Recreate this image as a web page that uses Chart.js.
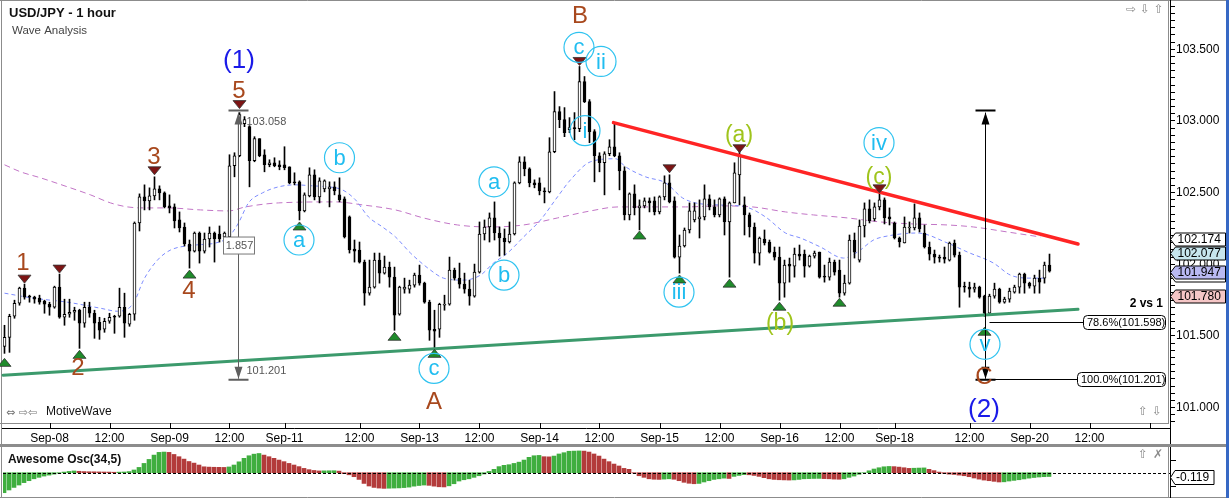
<!DOCTYPE html>
<html lang="en">
<head>
<meta charset="UTF-8">
<title>USD/JPY - 1 hour</title>
<script src="https://cdn.jsdelivr.net/npm/chart.js@4.4.1/dist/chart.umd.min.js"></script>
<style>
  html, body { margin: 0; padding: 0; background: #fff; }
  #wrap { position: relative; width: 1229px; height: 498px; overflow: hidden; }
  canvas { position: absolute; left: 0; }
  #priceChart { top: 0; }
  #aoChart { top: 446px; }
</style>
</head>
<body>
<div id="wrap">
  <canvas id="priceChart" width="1229" height="446"></canvas>
  <canvas id="aoChart" width="1229" height="52"></canvas>
</div>
<script>
// hourly candles (index 0 = first bar on the left)
const opens = [
  101.427, 101.490, 101.637, 101.728, 101.833, 101.777, 101.770, 101.763, 101.742, 101.721,
  101.700, 101.840, 101.630, 101.651, 101.665, 101.679, 101.588, 101.700, 101.658, 101.595,
  101.546, 101.602, 101.637, 101.637, 101.700, 101.581, 101.651, 102.288, 102.470, 102.442,
  102.477, 102.526, 102.498, 102.407, 102.400, 102.309, 102.260, 102.141, 102.092, 102.218,
  102.092, 102.176, 102.218, 102.211, 102.190, 102.190, 102.687, 102.757, 102.981, 102.960,
  102.722, 102.876, 102.764, 102.694, 102.708, 102.694, 102.694, 102.680, 102.575, 102.575,
  102.372, 102.477, 102.624, 102.470, 102.526, 102.526, 102.540, 102.484, 102.456, 102.330,
  102.106, 102.099, 102.015, 101.798, 101.840, 102.029, 101.938, 101.980, 101.910, 101.651,
  101.826, 101.826, 101.854, 101.924, 101.868, 101.735, 101.546, 101.546, 101.714, 101.721,
  101.959, 101.903, 101.861, 101.826, 101.777, 101.945, 102.211, 102.260, 102.323, 102.218,
  102.183, 102.155, 102.211, 102.568, 102.715, 102.666, 102.568, 102.568, 102.512, 102.505,
  102.785, 103.065, 103.009, 102.939, 102.953, 102.946, 103.275, 103.135, 102.925, 102.757,
  102.708, 102.771, 102.820, 102.757, 102.652, 102.344, 102.491, 102.393, 102.407, 102.442,
  102.442, 102.365, 102.470, 102.568, 102.442, 102.050, 102.127, 102.239, 102.309, 102.316,
  102.330, 102.456, 102.400, 102.344, 102.456, 102.295, 102.428, 102.624, 102.414, 102.344,
  102.260, 102.078, 102.176, 102.155, 102.085, 102.050, 101.868, 102.001, 101.987, 102.071,
  102.071, 101.987, 102.057, 102.085, 101.917, 101.910, 102.015, 101.959, 101.798, 101.868,
  102.169, 102.029, 102.267, 102.386, 102.316, 102.400, 102.449, 102.330, 102.288, 102.183,
  102.148, 102.253, 102.253, 102.323, 102.218, 102.120, 102.071, 102.050, 102.050, 102.029,
  102.148, 102.064, 101.847, 101.840, 101.826, 101.840, 101.777, 101.658, 101.777, 101.826,
  101.735, 101.756, 101.805, 101.840, 101.931, 101.868, 101.847, 101.903, 101.903, 101.994
];
const highs = [
  101.574, 101.651, 101.749, 101.840, 101.861, 101.784, 101.777, 101.784, 101.749, 101.735,
  101.847, 101.931, 101.756, 101.756, 101.700, 101.686, 101.735, 101.735, 101.679, 101.630,
  101.623, 101.658, 101.644, 101.833, 101.798, 101.658, 102.295, 102.491, 102.554, 102.533,
  102.610, 102.547, 102.505, 102.484, 102.421, 102.365, 102.288, 102.169, 102.225, 102.225,
  102.218, 102.260, 102.225, 102.267, 102.225, 102.764, 102.778, 103.058, 103.030, 102.967,
  102.890, 102.876, 102.799, 102.729, 102.743, 102.722, 102.820, 102.680, 102.638, 102.582,
  102.498, 102.673, 102.659, 102.603, 102.589, 102.575, 102.575, 102.603, 102.470, 102.337,
  102.169, 102.155, 102.029, 102.029, 102.078, 102.078, 102.057, 102.015, 101.980, 101.847,
  101.903, 101.889, 101.938, 101.994, 101.875, 101.749, 101.679, 101.728, 101.784, 102.050,
  101.973, 102.008, 101.938, 101.889, 102.001, 102.295, 102.309, 102.358, 102.435, 102.260,
  102.246, 102.295, 102.575, 102.750, 102.750, 102.673, 102.589, 102.603, 102.533, 102.883,
  103.205, 103.100, 103.093, 103.023, 103.058, 103.380, 103.310, 103.149, 102.939, 102.778,
  102.785, 102.869, 102.988, 102.778, 102.680, 102.498, 102.554, 102.449, 102.463, 102.463,
  102.470, 102.477, 102.617, 102.624, 102.470, 102.204, 102.253, 102.428, 102.428, 102.449,
  102.554, 102.484, 102.449, 102.463, 102.470, 102.435, 102.708, 102.785, 102.470, 102.358,
  102.288, 102.190, 102.239, 102.169, 102.120, 102.120, 102.029, 102.043, 102.113, 102.134,
  102.099, 102.064, 102.092, 102.085, 101.994, 102.043, 102.029, 102.029, 101.924, 102.204,
  102.218, 102.309, 102.428, 102.449, 102.428, 102.498, 102.463, 102.393, 102.295, 102.190,
  102.330, 102.295, 102.421, 102.358, 102.274, 102.155, 102.099, 102.064, 102.120, 102.155,
  102.169, 102.085, 101.875, 101.875, 101.868, 101.847, 101.784, 101.791, 101.868, 101.833,
  101.770, 101.833, 101.854, 101.938, 101.938, 101.875, 101.924, 101.959, 102.015, 102.071
];
const lows = [
  101.378, 101.385, 101.623, 101.714, 101.756, 101.735, 101.728, 101.721, 101.658, 101.644,
  101.693, 101.623, 101.574, 101.630, 101.609, 101.413, 101.560, 101.630, 101.483, 101.476,
  101.525, 101.588, 101.518, 101.630, 101.490, 101.567, 101.609, 102.232, 102.379, 102.379,
  102.449, 102.449, 102.393, 102.358, 102.253, 102.225, 102.127, 101.973, 102.085, 102.008,
  102.078, 102.120, 102.015, 102.155, 102.176, 102.183, 102.610, 102.750, 102.960, 102.540,
  102.715, 102.750, 102.645, 102.680, 102.680, 102.659, 102.659, 102.561, 102.554, 102.309,
  102.365, 102.470, 102.449, 102.428, 102.505, 102.400, 102.484, 102.435, 102.183, 102.078,
  102.015, 102.008, 101.714, 101.784, 101.833, 101.868, 101.931, 101.840, 101.539, 101.644,
  101.798, 101.798, 101.840, 101.854, 101.728, 101.469, 101.413, 101.490, 101.679, 101.714,
  101.889, 101.833, 101.798, 101.714, 101.770, 101.938, 102.169, 102.155, 102.169, 102.057,
  102.064, 102.148, 102.204, 102.561, 102.617, 102.540, 102.533, 102.484, 102.428, 102.498,
  102.778, 102.953, 102.890, 102.918, 102.869, 102.925, 103.128, 102.848, 102.575, 102.645,
  102.484, 102.757, 102.750, 102.519, 102.309, 102.309, 102.344, 102.239, 102.393, 102.365,
  102.344, 102.351, 102.449, 102.428, 102.043, 101.938, 102.120, 102.218, 102.295, 102.183,
  102.309, 102.379, 102.330, 102.330, 102.204, 101.910, 102.428, 102.414, 102.204, 102.190,
  102.008, 101.994, 102.134, 102.078, 102.029, 101.749, 101.770, 101.875, 101.910, 102.029,
  101.910, 101.980, 102.043, 101.903, 101.875, 101.889, 101.924, 101.770, 101.784, 101.861,
  102.043, 102.015, 102.190, 102.288, 102.302, 102.379, 102.281, 102.274, 102.176, 102.120,
  102.148, 102.218, 102.239, 102.225, 102.113, 102.029, 102.008, 102.015, 102.008, 102.022,
  102.050, 101.700, 101.805, 101.770, 101.805, 101.763, 101.637, 101.644, 101.763, 101.728,
  101.728, 101.735, 101.798, 101.798, 101.798, 101.833, 101.798, 101.798, 101.868, 101.945
];
const closes = [
  101.490, 101.637, 101.728, 101.833, 101.770, 101.770, 101.756, 101.735, 101.721, 101.700,
  101.840, 101.630, 101.651, 101.665, 101.679, 101.588, 101.700, 101.658, 101.588, 101.539,
  101.602, 101.630, 101.630, 101.700, 101.588, 101.651, 102.288, 102.470, 102.442, 102.477,
  102.526, 102.498, 102.400, 102.393, 102.302, 102.253, 102.141, 102.092, 102.218, 102.092,
  102.176, 102.218, 102.176, 102.176, 102.218, 102.687, 102.757, 103.044, 103.009, 102.722,
  102.876, 102.757, 102.694, 102.708, 102.687, 102.680, 102.673, 102.568, 102.568, 102.372,
  102.484, 102.624, 102.470, 102.582, 102.582, 102.540, 102.512, 102.449, 102.190, 102.099,
  102.092, 102.015, 101.798, 101.840, 102.029, 101.938, 101.980, 101.910, 101.644, 101.840,
  101.840, 101.854, 101.924, 101.868, 101.735, 101.539, 101.532, 101.721, 101.721, 101.959,
  101.903, 101.861, 101.826, 101.777, 101.945, 102.211, 102.260, 102.323, 102.218, 102.183,
  102.155, 102.211, 102.568, 102.715, 102.666, 102.568, 102.554, 102.512, 102.505, 102.785,
  103.065, 103.009, 102.918, 102.953, 102.946, 103.275, 103.135, 102.925, 102.757, 102.708,
  102.771, 102.820, 102.757, 102.652, 102.344, 102.491, 102.393, 102.407, 102.442, 102.428,
  102.365, 102.470, 102.568, 102.435, 102.050, 102.127, 102.239, 102.372, 102.372, 102.330,
  102.456, 102.400, 102.344, 102.456, 102.295, 102.428, 102.638, 102.764, 102.344, 102.260,
  102.078, 102.183, 102.148, 102.085, 102.050, 101.868, 101.994, 101.987, 102.071, 102.057,
  101.987, 102.057, 102.078, 101.910, 101.910, 102.015, 101.945, 101.798, 101.868, 102.169,
  102.085, 102.267, 102.386, 102.302, 102.400, 102.449, 102.323, 102.316, 102.183, 102.155,
  102.260, 102.260, 102.323, 102.246, 102.120, 102.071, 102.050, 102.043, 102.036, 102.148,
  102.064, 101.840, 101.840, 101.826, 101.840, 101.770, 101.658, 101.777, 101.826, 101.735,
  101.756, 101.812, 101.840, 101.931, 101.868, 101.847, 101.903, 101.875, 101.994, 101.952
];

// Awesome Oscillator (34,5), one bar per candle
const aoValues = [
  -0.625, -0.54, -0.46, -0.385, -0.31, -0.25, -0.19, -0.145, -0.105, -0.075,
  -0.045, -0.015, 0.02, 0.04, 0.055, 0.045, 0.035, 0.03, 0.028, 0.025,
  0.022, 0.02, 0.015, 0.018, 0.022, 0.035, 0.085, 0.165, 0.29, 0.415,
  0.55, 0.635, 0.645, 0.635, 0.57, 0.50, 0.425, 0.35, 0.30, 0.24,
  0.185, 0.175, 0.17, 0.168, 0.165, 0.18, 0.24, 0.34, 0.45, 0.53,
  0.58, 0.60, 0.55, 0.50, 0.45, 0.395, 0.345, 0.29, 0.24, 0.19,
  0.135, 0.095, 0.07, 0.055, 0.058, 0.06, 0.062, 0.05, -0.03, -0.065,
  -0.125, -0.21, -0.335, -0.415, -0.46, -0.48, -0.49, -0.485, -0.48, -0.475,
  -0.465, -0.45, -0.42, -0.40, -0.385, -0.395, -0.42, -0.44, -0.445, -0.41,
  -0.345, -0.26, -0.22, -0.19, -0.145, -0.095, -0.04, 0.04, 0.105, 0.19,
  0.23, 0.25, 0.29, 0.33, 0.395, 0.48, 0.53, 0.54, 0.50, 0.495,
  0.52, 0.585, 0.625, 0.67, 0.675, 0.68, 0.675, 0.645, 0.585, 0.52,
  0.425, 0.345, 0.27, 0.21, 0.135, 0.105, -0.01, -0.095, -0.145, -0.19,
  -0.205, -0.21, -0.2, -0.19, -0.205, -0.25, -0.30, -0.33, -0.345, -0.335,
  -0.29, -0.25, -0.21, -0.19, -0.17, -0.18, -0.115, -0.085, -0.06, -0.065,
  -0.085, -0.115, -0.155, -0.19, -0.21, -0.22, -0.225, -0.23, -0.225, -0.21,
  -0.19, -0.185, -0.18, -0.178, -0.185, -0.19, -0.2, -0.205, -0.19, -0.145,
  -0.105, -0.05, 0.0, 0.06, 0.115, 0.155, 0.185, 0.195, 0.19, 0.175,
  0.155, 0.135, 0.14, 0.145, 0.15, 0.105, 0.065, 0.02, -0.02, -0.045,
  -0.055, -0.075, -0.095, -0.125, -0.165, -0.2, -0.23, -0.25, -0.27, -0.29,
  -0.285, -0.26, -0.24, -0.22, -0.195, -0.17, -0.15, -0.135, -0.125, -0.119
];

// moving averages, sampled along the dashed curves (bar index, price)
const blueIdx = [0, 5.8, 12.6, 19.2, 22.6, 25.8, 27.8, 30.6, 33.2, 38.2, 42.2, 44.8, 46.8, 48.8, 51.6,
  54.8, 58.2, 61.6, 64.8, 67.6, 70.2, 72.8, 75.6, 78.2, 81.2, 85.2, 87.8, 91.8, 95.2, 97.8,
  100.6, 103.8, 107.2, 110.6, 113.2, 117.2, 122.2, 124.2, 128.2, 132.2, 135.6, 138.2, 142.8, 148.2, 152.2,
  156.2, 159.2, 163.2, 167.8, 170.6, 173.8, 176.6, 182.6, 188.6, 192.6, 197.8, 201.2, 205.2, 208.2];
const blueVal = [101.798, 101.763, 101.735, 101.693, 101.672, 101.728, 101.889, 102.029, 102.099, 102.134, 102.148, 102.190, 102.288, 102.428, 102.498,
  102.540, 102.554, 102.547, 102.540, 102.519, 102.449, 102.330, 102.260, 102.190, 102.078, 101.959, 101.903, 101.889, 101.924, 102.008,
  102.078, 102.190, 102.309, 102.470, 102.589, 102.715, 102.736, 102.680, 102.610, 102.568, 102.463, 102.428, 102.414, 102.400, 102.330,
  102.218, 102.183, 102.120, 102.043, 102.085, 102.169, 102.197, 102.218, 102.148, 102.085, 102.008, 101.924, 101.903, 101.903];
const purpleIdx = [0, 3.2, 7.2, 12.6, 17.2, 21.2, 24.6, 27.8, 32.6, 39.2, 44.8, 48.2, 54.8, 66.2, 71.6, 78.2, 83.8,
  90.6, 97.2, 103.8, 110.6, 117.2, 122.8, 136.2, 142.8, 149.6, 156.2, 161.8, 168.6, 175.2, 181.8, 188.6, 193.8, 200.6, 207.2];
const purpleVal = [102.694, 102.645, 102.603, 102.540, 102.484, 102.428, 102.400, 102.393, 102.393, 102.379, 102.372, 102.400, 102.428, 102.435, 102.414, 102.379, 102.323,
  102.274, 102.260, 102.274, 102.323, 102.372, 102.400, 102.400, 102.407, 102.400, 102.365, 102.344, 102.323, 102.295, 102.281, 102.274, 102.260, 102.225, 102.190];

// time axis
const tickIndex = [9, 21, 33, 45, 56, 71, 83, 95, 107, 119, 131, 143, 155, 167, 178, 193, 205, 217, 229];
const tickLabels = ['Sep-08', '12:00', 'Sep-09', '12:00', 'Sep-11', '12:00', 'Sep-13', '12:00', 'Sep-14', '12:00',
  'Sep-15', '12:00', 'Sep-16', '12:00', 'Sep-18', '12:00', 'Sep-20', '12:00', ''];

// price tags on the right axis
const tagValues = [102.174, 102.077, 101.925, 101.947, 101.780];
const tagFills = ['#ffffff', '#c7e6ee', '#ffffff', '#b9b9f2', '#f5c6c6'];

// ---- annotations (anchored to bar index / price) ----
const waveBrown = [['1', 3.7, 102.008], ['2', 14.7, 101.273], ['3', 29.9, 102.743], ['4', 36.9, 101.812],
  ['5', 46.9, 103.205], ['B', 115.1, 103.730], ['A', 85.9, 101.035], ['C', 195.9, 101.210]];
const waveBlue = [['(1)', 46.9, 103.422], ['(2)', 195.9, 100.986]];
const waveCyan = [['a', 58.9, 102.169], ['b', 67.0, 102.743], ['a', 97.9, 102.575], ['b', 99.9, 101.924],
  ['c', 85.9, 101.273], ['c', 114.9, 103.513], ['ii', 119.3, 103.415], ['i', 116.1, 102.932],
  ['iii', 134.9, 101.805], ['iv', 174.9, 102.848], ['v', 196.1, 101.441]];
const waveLime = [['(a)', 146.9, 102.897], ['(b)', 155.1, 101.588], ['(c)', 174.9, 102.603]];
const downMarks = [[4, 101.868], [11, 101.938], [30, 102.624], [47, 103.086], [115, 103.387], [133, 102.638], [147, 102.778], [175, 102.498]];
const upMarks = [[0, 101.343], [15, 101.399], [37, 101.959], [59, 102.295], [78, 101.525], [86, 101.406],
  [127, 102.232], [135, 101.925], [145, 101.896], [155, 101.735], [167, 101.763], [196, 101.560]];

const X_MIN = -0.3, X_MAX = 233.1;
const Y_MIN = 100.892, Y_MAX = 103.830;
const FONT = '"Liberation Sans", Arial, sans-serif';
const SYM = '"DejaVu Sans", sans-serif';

Chart.defaults.font.family = FONT;

function label(ctx, s, x, y, size, color, opts) {
  opts = opts || {};
  ctx.font = (opts.bold ? 'bold ' : '') + size + 'px ' + (opts.family || FONT);
  ctx.fillStyle = color;
  ctx.textAlign = opts.align || 'center';
  ctx.textBaseline = 'middle';
  ctx.fillText(s, x, y);
}

function triangle(ctx, x, y, up) {
  const w = 6.5, h = 8;
  ctx.beginPath();
  ctx.moveTo(x, y);
  ctx.lineTo(x - w, up ? y + h : y - h);
  ctx.lineTo(x + w, up ? y + h : y - h);
  ctx.closePath();
  ctx.fillStyle = up ? '#1f8b2b' : '#7d1414';
  ctx.fill();
  ctx.strokeStyle = '#333';
  ctx.lineWidth = 0.8;
  ctx.stroke();
}

function measureLine(ctx, x, yTop, yBot, color) {
  ctx.strokeStyle = color;
  ctx.fillStyle = color;
  ctx.lineWidth = 1;
  ctx.beginPath();
  ctx.moveTo(x, yTop); ctx.lineTo(x, yBot);
  ctx.stroke();
  ctx.lineWidth = 2;
  ctx.beginPath();
  ctx.moveTo(x - 10, yTop - 2); ctx.lineTo(x + 10, yTop - 2);
  ctx.moveTo(x - 10, yBot + 1); ctx.lineTo(x + 10, yBot + 1);
  ctx.stroke();
  ctx.beginPath();
  ctx.moveTo(x, yTop); ctx.lineTo(x - 4, yTop + 12); ctx.lineTo(x + 4, yTop + 12); ctx.closePath();
  ctx.moveTo(x, yBot); ctx.lineTo(x - 4, yBot - 12); ctx.lineTo(x + 4, yBot - 12); ctx.closePath();
  ctx.fill();
}

function roundRect(ctx, x, y, w, h, r) {
  ctx.beginPath();
  ctx.moveTo(x + r, y);
  ctx.lineTo(x + w - r, y); ctx.quadraticCurveTo(x + w, y, x + w, y + r);
  ctx.lineTo(x + w, y + h - r); ctx.quadraticCurveTo(x + w, y + h, x + w - r, y + h);
  ctx.lineTo(x + r, y + h); ctx.quadraticCurveTo(x, y + h, x, y + h - r);
  ctx.lineTo(x, y + r); ctx.quadraticCurveTo(x, y, x + r, y);
  ctx.closePath();
}

function axisTag(ctx, x0, yc, text, fill) {
  const h = 13;
  ctx.beginPath();
  ctx.moveTo(x0, yc);
  ctx.lineTo(x0 + 5, yc - h / 2);
  ctx.lineTo(x0 + 55, yc - h / 2);
  ctx.lineTo(x0 + 55, yc + h / 2);
  ctx.lineTo(x0 + 5, yc + h / 2);
  ctx.closePath();
  ctx.fillStyle = fill;
  ctx.fill();
  ctx.strokeStyle = '#000';
  ctx.lineWidth = 1;
  ctx.stroke();
  label(ctx, text, x0 + 7, yc + 0.5, 12, '#000', { align: 'left' });
}

const priceMarks = {
  id: 'priceMarks',
  afterDraw(chart) {
    const { ctx, scales: { x, y } } = chart;
    const px = i => x.getPixelForValue(i);
    const py = p => y.getPixelForValue(p);
    ctx.save();

    // frame and separators
    ctx.strokeStyle = '#8c8c8c';
    ctx.lineWidth = 1;
    ctx.beginPath();
    ctx.moveTo(0, 0.5); ctx.lineTo(1229, 0.5);
    ctx.moveTo(1.5, 0); ctx.lineTo(1.5, 446);
    ctx.moveTo(0, 423.5); ctx.lineTo(1168, 423.5);
    ctx.moveTo(1168.5, 0); ctx.lineTo(1168.5, 424);
    ctx.stroke();
    ctx.lineWidth = 2;
    ctx.beginPath();
    ctx.moveTo(0, 445); ctx.lineTo(1229, 445);
    ctx.stroke();
    ctx.strokeStyle = '#000';
    ctx.lineWidth = 1;
    ctx.beginPath();
    ctx.moveTo(1170.5, 0); ctx.lineTo(1170.5, 444);
    ctx.moveTo(2, 428.5); ctx.lineTo(1171, 428.5);
    tickIndex.forEach(v => { const tx = Math.round(px(v)) + 0.5; ctx.moveTo(tx, 423); ctx.lineTo(tx, 428); });
    ctx.stroke();
    ctx.fillStyle = '#3768c4';
    ctx.fillRect(1226, 0, 3, 446);

    // trend lines
    ctx.lineCap = 'round';
    ctx.strokeStyle = '#3c9a6c';
    ctx.lineWidth = 3;
    ctx.beginPath();
    ctx.moveTo(px(-0.3), py(101.225)); ctx.lineTo(px(214.7), py(101.686));
    ctx.stroke();
    ctx.strokeStyle = '#ff2424';
    ctx.lineWidth = 3.5;
    ctx.beginPath();
    ctx.moveTo(px(121.8), py(102.988)); ctx.lineTo(px(214.7), py(102.141));
    ctx.stroke();
    ctx.lineCap = 'butt';

    // swing markers
    downMarks.forEach(([i, p]) => triangle(ctx, px(i), py(p), false));
    upMarks.forEach(([i, p]) => triangle(ctx, px(i), py(p), true));

    // wave (1) measurement
    const gx = Math.round(px(46.8)) + 0.5;
    measureLine(ctx, gx, py(103.058), py(101.201), '#5f5f5f');
    label(ctx, '103.058', gx + 8, py(103.058) + 9, 11, '#555', { align: 'left' });
    label(ctx, '101.201', gx + 8, py(101.201) - 8, 11, '#555', { align: 'left' });
    ctx.fillStyle = '#fff';
    ctx.fillRect(gx - 15, py(102.134) - 8, 31, 17);
    ctx.strokeStyle = '#777';
    ctx.lineWidth = 1;
    ctx.strokeRect(gx - 15, py(102.134) - 8, 31, 17);
    label(ctx, '1.857', gx + 1, py(102.134) + 0.5, 11, '#555');

    // wave (2) retracement
    const bx = Math.round(px(196.2)) + 0.5;
    measureLine(ctx, bx, py(103.058), py(101.201), '#000');
    ctx.strokeStyle = '#000';
    ctx.lineWidth = 1;
    ctx.beginPath();
    ctx.moveTo(px(197), Math.round(py(101.598)) + 0.5); ctx.lineTo(1084, Math.round(py(101.598)) + 0.5);
    ctx.moveTo(bx, Math.round(py(101.201)) + 0.5); ctx.lineTo(1078, Math.round(py(101.201)) + 0.5);
    ctx.stroke();
    [['78.6%(101.598)', 101.598, 1083], ['100.0%(101.201)', 101.201, 1077]].forEach(([t, p, left]) => {
      const yc = Math.round(py(p)) + 0.5;
      roundRect(ctx, left + 0.5, yc - 7, 1165 - left, 14, 4);
      ctx.fillStyle = '#fff'; ctx.fill();
      ctx.strokeStyle = '#000'; ctx.stroke();
      label(ctx, t, left + 4, yc + 0.5, 11, '#000', { align: 'left' });
    });
    label(ctx, '2 vs 1', 1163, 304, 12, '#000', { align: 'right', bold: true });

    // wave labels
    waveBrown.forEach(([t, i, p]) => label(ctx, t, px(i), py(p), 24, '#a8481d'));
    waveBlue.forEach(([t, i, p]) => label(ctx, t, px(i), py(p), 26, '#1a1ae8'));
    waveLime.forEach(([t, i, p]) => label(ctx, t, px(i), py(p), 23, '#9fc41c'));
    waveCyan.forEach(([t, i, p]) => {
      ctx.beginPath();
      ctx.arc(px(i), py(p), 15, 0, Math.PI * 2);
      ctx.strokeStyle = '#2fc3f0';
      ctx.lineWidth = 1.2;
      ctx.stroke();
      label(ctx, t, px(i), py(p) + 1, 22, '#20bdf0');
    });

    // right axis tags
    tagValues.forEach((v, k) => axisTag(ctx, 1170.5, Math.round(py(v)) + 0.5, v.toFixed(3), tagFills[k]));

    // header and widgets
    label(ctx, 'USD/JPY - 1 hour', 9, 13, 13, '#111', { align: 'left', bold: true });
    label(ctx, 'Wave Analysis', 12, 31, 11.5, '#444', { align: 'left' });
    label(ctx, '\u21E8 \u21E9 \u21E7', 1145, 10, 12, '#8a8a8a', { family: SYM });
    label(ctx, '\u21E7 \u21E9', 1150, 412, 12, '#8a8a8a', { family: SYM });
    label(ctx, '\u21D4 \u21E8\u21E6', 6, 413, 11, '#777', { align: 'left', family: SYM });
    label(ctx, 'MotiveWave', 46, 412, 12, '#111', { align: 'left' });
    ctx.restore();
  }
};

new Chart(document.getElementById('priceChart'), {
  data: {
    datasets: [
      {
        type: 'bar',
        label: 'body',
        data: opens.map((o, i) => ({ x: i, y: [o, closes[i]] })),
        backgroundColor: c => (closes[c.dataIndex] >= opens[c.dataIndex] ? '#ffffff' : '#000000'),
        borderColor: '#000',
        borderWidth: 1,
        borderSkipped: false,
        barThickness: 3,
        minBarLength: 1,
        grouped: false,
        order: 1
      },
      {
        type: 'bar',
        label: 'wick',
        data: lows.map((l, i) => ({ x: i, y: [l, highs[i]] })),
        backgroundColor: '#000',
        barThickness: 1,
        grouped: false,
        order: 2
      },
      {
        type: 'line',
        label: 'fast MA',
        data: blueIdx.map((v, k) => ({ x: v, y: blueVal[k] })),
        borderColor: '#7d8cff',
        borderWidth: 1,
        borderDash: [4, 3],
        pointRadius: 0,
        cubicInterpolationMode: 'monotone',
        order: 3
      },
      {
        type: 'line',
        label: 'slow MA',
        data: purpleIdx.map((v, k) => ({ x: v, y: purpleVal[k] })),
        borderColor: '#c275c6',
        borderWidth: 1,
        borderDash: [6, 4],
        pointRadius: 0,
        cubicInterpolationMode: 'monotone',
        order: 4
      }
    ]
  },
  options: {
    responsive: false,
    animation: false,
    events: [],
    layout: { autoPadding: false, padding: { left: 3, top: 2, right: 0, bottom: 0 } },
    plugins: { legend: { display: false }, tooltip: { enabled: false } },
    scales: {
      x: {
        type: 'linear', min: X_MIN, max: X_MAX, offset: false,
        afterBuildTicks: s => { s.ticks = tickIndex.map(v => ({ value: v })); },
        afterFit: s => { s.height = 23; s.paddingLeft = 0; s.paddingRight = 0; },
        grid: { display: false, drawTicks: false },
        border: { display: false },
        ticks: {
          autoSkip: false, maxRotation: 0, padding: 8, color: '#000', font: { size: 12 },
          callback: v => tickLabels[tickIndex.indexOf(v)]
        }
      },
      y: {
        type: 'linear', position: 'right', min: Y_MIN, max: Y_MAX,
        afterBuildTicks: s => {
          const t = [];
          for (let k = 2018; k <= 2076; k++) t.push({ value: k / 20 });
          s.ticks = t;
        },
        afterFit: s => { s.width = 59; s.paddingTop = 0; s.paddingBottom = 0; },
        grid: { drawOnChartArea: false, tickLength: 5, color: '#000' },
        border: { display: true, color: '#000' },
        ticks: {
          autoSkip: false, padding: 1, color: '#000', font: { size: 12 },
          callback: v => (Math.round(v * 20) % 10 === 0 ? v.toFixed(3) : '')
        }
      }
    }
  },
  plugins: [priceMarks]
});

const aoMarks = {
  id: 'aoMarks',
  afterDraw(chart) {
    const { ctx, scales: { y } } = chart;
    const z = Math.round(y.getPixelForValue(0)) + 0.5;
    ctx.save();
    ctx.strokeStyle = '#000';
    ctx.lineWidth = 1;
    ctx.setLineDash([3, 2]);
    ctx.beginPath();
    ctx.moveTo(3, z); ctx.lineTo(1170, z);
    ctx.stroke();
    ctx.setLineDash([]);
    ctx.strokeStyle = '#8c8c8c';
    ctx.beginPath();
    ctx.moveTo(1.5, 0); ctx.lineTo(1.5, 52);
    ctx.moveTo(0, 51.5); ctx.lineTo(1229, 51.5);
    ctx.moveTo(1168.5, 0); ctx.lineTo(1168.5, 52);
    ctx.stroke();
    ctx.lineWidth = 2;
    ctx.beginPath();
    ctx.moveTo(0, 0); ctx.lineTo(1229, 0);
    ctx.stroke();
    ctx.strokeStyle = '#000';
    ctx.lineWidth = 1;
    ctx.beginPath();
    ctx.moveTo(1170.5, 1); ctx.lineTo(1170.5, 52);
    [0.4, -0.4].forEach(v => { const ty = Math.round(y.getPixelForValue(v)) + 0.5; ctx.moveTo(1170, ty); ctx.lineTo(1176, ty); });
    ctx.stroke();
    ctx.fillStyle = '#3768c4';
    ctx.fillRect(1226, 0, 3, 52);
    const last = aoValues[aoValues.length - 1];
    const ty = Math.round(y.getPixelForValue(last)) + 0.5;
    ctx.beginPath();
    ctx.moveTo(1170.5, ty); ctx.lineTo(1175, ty - 7); ctx.lineTo(1214, ty - 7); ctx.lineTo(1214, ty + 7); ctx.lineTo(1175, ty + 7);
    ctx.closePath();
    ctx.fillStyle = '#fff'; ctx.fill();
    ctx.stroke();
    label(ctx, last.toFixed(3), 1176, ty + 0.5, 12, '#000', { align: 'left' });
    label(ctx, 'Awesome Osc(34,5)', 8, 14, 12, '#111', { align: 'left', bold: true });
    label(ctx, '\u21E7', 1143, 9, 12, '#8a8a8a', { family: SYM });
    label(ctx, '\u2717', 1158, 9, 12, '#8a8a8a', { family: SYM });
    ctx.restore();
  }
};

new Chart(document.getElementById('aoChart'), {
  type: 'bar',
  data: {
    datasets: [{
      data: aoValues.map((v, i) => ({ x: i, y: v })),
      backgroundColor: c => (c.dataIndex === 0 || aoValues[c.dataIndex] >= aoValues[c.dataIndex - 1] ? '#3fae3f' : '#b33b3b'),
      barThickness: 4,
      grouped: false
    }]
  },
  options: {
    responsive: false,
    animation: false,
    events: [],
    layout: { autoPadding: false, padding: { left: 3, top: 1, right: 59, bottom: 1 } },
    plugins: { legend: { display: false }, tooltip: { enabled: false } },
    scales: {
      x: { type: 'linear', min: -0.2, max: 233.2, offset: false, display: false },
      y: { type: 'linear', min: -0.759, max: 0.803, display: false }
    }
  },
  plugins: [aoMarks]
});
</script>
</body>
</html>
